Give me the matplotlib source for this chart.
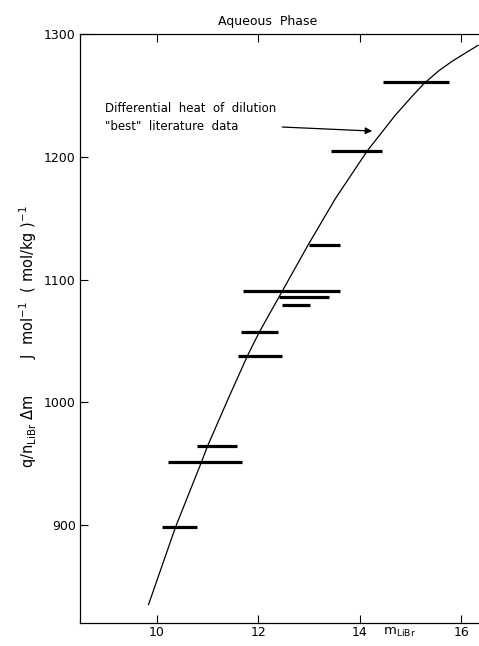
import matplotlib.pyplot as plt

# dilution intervals: m from -> to, measured q/(n dm)
m_lo = [14.45, 13.43, 13.00, 11.71, 12.41, 12.46, 11.66, 11.61, 10.80, 10.22, 10.10]
m_hi = [15.76, 14.44, 13.61, 13.61, 13.40, 13.02, 12.40, 12.46, 11.59, 11.69, 10.80]
q_val = [1261, 1205, 1128, 1091, 1086, 1079, 1057, 1038, 964, 951, 898]

# "best" literature curve
curve_m = [9.84, 10.37, 10.88, 11.00, 11.40, 11.79, 12.02, 12.48, 12.98, 13.52, 14.15,
           14.70, 15.00, 15.27, 15.55, 15.82, 16.33]
curve_q = [835, 898, 951, 964, 1002, 1038, 1057, 1091, 1128, 1166, 1205,
           1234, 1248, 1260, 1270, 1278, 1291]

xticks = [10, 12, 14, 16]
yticks = [900, 1000, 1100, 1200, 1300]

fig = plt.figure(figsize=(4.79, 6.46), dpi=100)
ax = fig.add_axes([80/479, 23/646, 1 - 80/479, (623 - 34.3)/646])

ax.plot(curve_m, curve_q, color='black', lw=0.9)
ax.hlines(q_val, m_lo, m_hi, color='black', lw=2.3)

ax.set_xlim(8.49, 16.35)
ax.set_ylim(820, 1300)
ax.set_xticks(xticks)
ax.set_yticks(yticks)
ax.tick_params(direction='in', top=True, length=6, width=0.8, labelsize=9, pad=3)
ax.tick_params(axis='x', pad=2)
ax.spines['right'].set_visible(False)
for s in ['left', 'top', 'bottom']:
    ax.spines[s].set_linewidth(0.9)

ax.annotate('', xy=(14.3, 1221), xytext=(12.42, 1224.5),
            arrowprops=dict(arrowstyle='-|>', color='black', lw=0.9, mutation_scale=10))
ax.text(8.98, 1239.5, 'Differential  heat  of  dilution', fontsize=8.5, va='center')
ax.text(8.98, 1224.5, '"best"  literature  data', fontsize=8.5, va='center')

ax.text(14.45, -0.005, r'm$_{\rm LiBr}$', fontsize=9.5, transform=ax.get_xaxis_transform(), va='top')

fig.text(268/479, 1 - 22/646, 'Aqueous  Phase', fontsize=9, ha='center', va='center')
fig.text(28/479, 1 - 337/646,
         r'q/n$_{\rm LiBr}$ $\Delta$m        J  mol$^{-1}$  ( mol/kg )$^{-1}$',
         rotation=90, fontsize=10.5, ha='center', va='center')

fig.savefig('out.png', dpi=100)
